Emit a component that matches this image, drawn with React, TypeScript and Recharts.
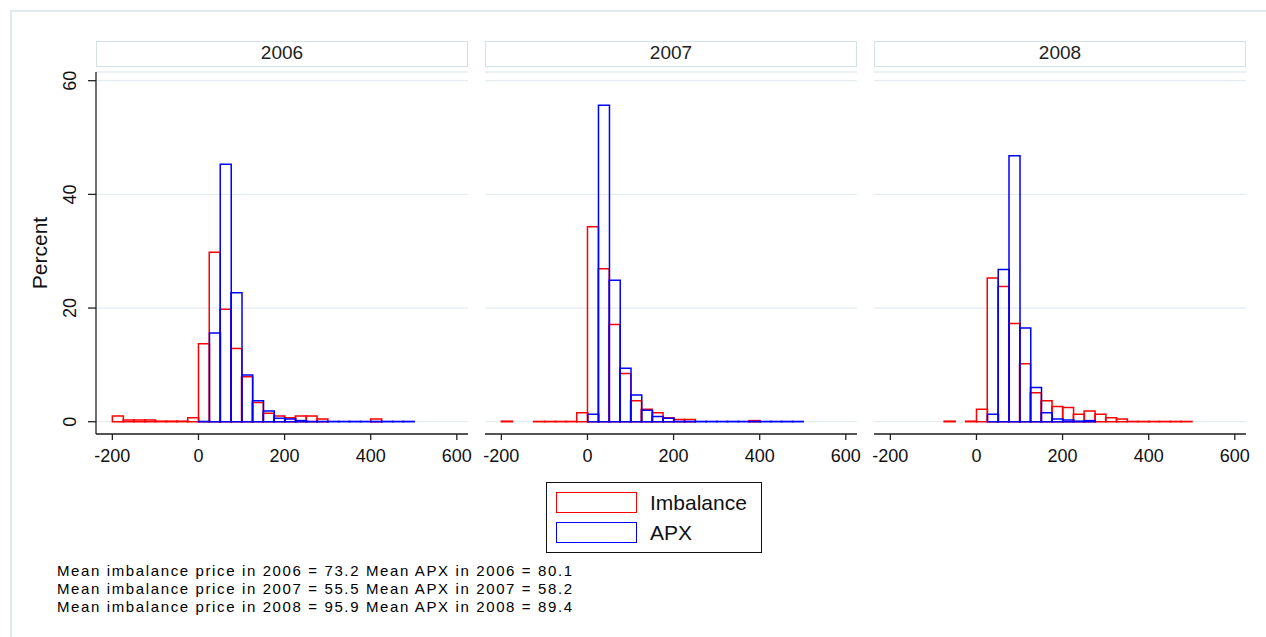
import React from "react";
import { Bar, CartesianGrid, ComposedChart, XAxis, YAxis } from "recharts";

// histogram bins are 25 wide; each array holds one value (percent) per bin
const binStarts = [
  -200, -175, -150, -125, -100, -75, -50, -25, 0, 25, 50, 75, 100, 125, 150,
  175, 200, 225, 250, 275, 300, 325, 350, 375, 400, 425, 450, 475,
];
const BIN_WIDTH = 25;

const imbalance2006 = [
  1.0, 0.3, 0.3, 0.3, 0.1, 0.1, 0.1, 0.7, 13.7, 29.8, 19.8, 12.9, 7.9, 3.4,
  1.5, 1.0, 0.7, 1.0, 1.0, 0.5, null, null, null, null, 0.5, null, null, null,
];
const apx2006 = [
  null, null, null, null, null, null, null, null, 0.05, 15.6, 45.3, 22.7, 8.2,
  3.7, 1.9, 0.6, 0.5, 0.2, 0.05, 0.05, 0.05, 0.05, 0.05, 0.05, 0.05, 0.05,
  0.05, 0.05,
];

const imbalance2007 = [
  0.1, null, null, 0.05, 0.05, 0.05, 0.05, 1.6, 34.3, 26.9, 17.1, 8.5, 3.7,
  2.2, 1.6, 0.7, 0.4, 0.4, null, null, null, null, null, 0.2, null, null, null,
  null,
];
const apx2007 = [
  null, null, null, null, null, null, null, null, 1.3, 55.7, 24.9, 9.4, 4.7,
  2.0, 0.9, 0.6, 0.05, 0.05, 0.05, 0.05, 0.05, 0.05, 0.05, 0.05, 0.05, 0.05,
  0.05, 0.05,
];

const imbalance2008 = [
  null, null, null, null, null, 0.1, null, 0.1, 2.2, 25.3, 23.8, 17.3, 10.2,
  5.1, 3.7, 2.7, 2.5, 1.3, 1.9, 1.3, 0.7, 0.5, 0.05, 0.05, 0.05, 0.05, 0.05,
  0.05,
];
const apx2008 = [
  null, null, null, null, null, null, null, null, null, 1.3, 26.8, 46.8, 16.5,
  6.0, 1.6, 0.5, 0.3, 0.1, 0.2, null, null, null, null, null, null, null, null,
  null,
];

const years = ["2006", "2007", "2008"];
const xTicks = [-200, 0, 200, 400, 600];
const yTicks = [0, 20, 40, 60];
const notes = [
  "Mean imbalance price in 2006 = 73.2 Mean APX in 2006 = 80.1",
  "Mean imbalance price in 2007 = 55.5 Mean APX in 2007 = 58.2",
  "Mean imbalance price in 2008 = 95.9 Mean APX in 2008 = 89.4",
];

const FONT = "'Liberation Sans', Arial, Helvetica, sans-serif";
const RED = "#ff0000";
const BLUE = "#0000ff";
const GRID = "#e5edf1";
const FRAME = "#dfe9ee";

const TOP = 72;
const PLOT_W = 372;
const PLOT_H = 362;
const XAXIS_H = 44;
const YAXIS_W = 96;
const RIGHT = 14;

function YTick(props: any) {
  const { x, y, payload } = props;
  return (
    <text
      x={x}
      y={y}
      transform={`rotate(-90 ${x} ${y})`}
      textAnchor="middle"
      fontSize={18}
      fontFamily={FONT}
      fill="#111"
    >
      {payload.value}
    </text>
  );
}

function Panel({
  imb,
  apx,
  left,
  showY,
}: {
  imb: (number | null)[];
  apx: (number | null)[];
  left: number;
  showY: boolean;
}) {
  const data = binStarts.map((s, i) => ({
    mid: s + BIN_WIDTH / 2,
    imbalance: imb[i],
    apx: apx[i],
  }));
  const yw = showY ? YAXIS_W : 0;
  // panels without a y axis still need room for the "-200" label on the left
  const padL = showY ? 0 : 14;

  return (
    <div style={{ position: "absolute", left: left - yw - padL, top: 0 }}>
      <ComposedChart
        width={padL + yw + PLOT_W + RIGHT}
        height={TOP + PLOT_H + XAXIS_H}
        data={data}
        margin={{ top: TOP, right: RIGHT, bottom: 0, left: padL }}
        barCategoryGap={0}
        barGap="-100%"
      >
        <CartesianGrid vertical={false} stroke={GRID} strokeWidth={1.3} />
        <XAxis
          type="number"
          dataKey="mid"
          domain={[-238, 626]}
          ticks={xTicks}
          allowDataOverflow
          interval={0}
          height={XAXIS_H}
          tickSize={6}
          tickMargin={9}
          axisLine={{ stroke: "#222", strokeWidth: 1.3 }}
          tickLine={{ stroke: "#222", strokeWidth: 1.3 }}
          tick={{ fontSize: 18, fill: "#111", fontFamily: FONT }}
        />
        <YAxis
          type="number"
          domain={[-2.16, 61.53]}
          ticks={yTicks}
          allowDataOverflow
          hide={!showY}
          width={YAXIS_W}
          tickSize={8}
          tickMargin={12}
          tick={<YTick />}
          axisLine={{ stroke: "#222", strokeWidth: 1.3 }}
          tickLine={{ stroke: "#222", strokeWidth: 1.3 }}
          label={{
            value: "Percent",
            angle: -90,
            position: "insideLeft",
            offset: 40,
            fontSize: 21,
            fill: "#111",
            fontFamily: FONT,
            style: { textAnchor: "middle" },
          }}
        />
        <Bar
          dataKey="imbalance"
          fill="none"
          stroke={RED}
          strokeWidth={1.5}
          isAnimationActive={false}
        />
        <Bar
          dataKey="apx"
          fill="none"
          stroke={BLUE}
          strokeWidth={1.5}
          isAnimationActive={false}
        />
      </ComposedChart>
    </div>
  );
}

export default function App() {
  const panelLefts = [96, 485, 874];
  const series = [
    [imbalance2006, apx2006],
    [imbalance2007, apx2007],
    [imbalance2008, apx2008],
  ];

  return (
    <div
      style={{
        position: "absolute",
        left: 0,
        top: 0,
        width: 1266,
        height: 637,
        overflow: "hidden",
        background: "#fff",
        fontFamily: FONT,
      }}
    >
      {/* outer graph frame, only top and left edges are in view */}
      <div
        style={{
          position: "absolute",
          left: 10,
          top: 10,
          width: 1400,
          height: 800,
          borderTop: `2px solid ${FRAME}`,
          borderLeft: `2px solid ${FRAME}`,
        }}
      />

      {years.map((y, i) => (
        <div
          key={y}
          style={{
            position: "absolute",
            left: panelLefts[i],
            top: 41,
            width: PLOT_W,
            height: 26,
            boxSizing: "border-box",
            border: "1.5px solid #d3e2e9",
            textAlign: "center",
            fontSize: 19,
            lineHeight: "22px",
            color: "#222",
          }}
        >
          {y}
        </div>
      ))}

      {series.map(([imb, apx], i) => (
        <Panel
          key={years[i]}
          imb={imb}
          apx={apx}
          left={panelLefts[i]}
          showY={i === 0}
        />
      ))}

      {/* legend */}
      <div
        style={{
          position: "absolute",
          left: 546,
          top: 482,
          width: 216,
          height: 71,
          boxSizing: "border-box",
          border: "1.5px solid #111",
        }}
      />
      {[
        { name: "Imbalance", color: RED, top: 492 },
        { name: "APX", color: BLUE, top: 522 },
      ].map((it) => (
        <React.Fragment key={it.name}>
          <div
            style={{
              position: "absolute",
              left: 556,
              top: it.top,
              width: 81,
              height: 21,
              boxSizing: "border-box",
              border: `1.5px solid ${it.color}`,
            }}
          />
          <div
            style={{
              position: "absolute",
              left: 650,
              top: it.top,
              height: 22,
              fontSize: 21,
              lineHeight: "22px",
              color: "#111",
            }}
          >
            {it.name}
          </div>
        </React.Fragment>
      ))}

      <div
        style={{
          position: "absolute",
          left: 57,
          top: 562,
          fontSize: 15,
          lineHeight: "18px",
          letterSpacing: "1.62px",
          color: "#000",
          whiteSpace: "pre",
        }}
      >
        {notes.join("\n")}
      </div>
    </div>
  );
}
